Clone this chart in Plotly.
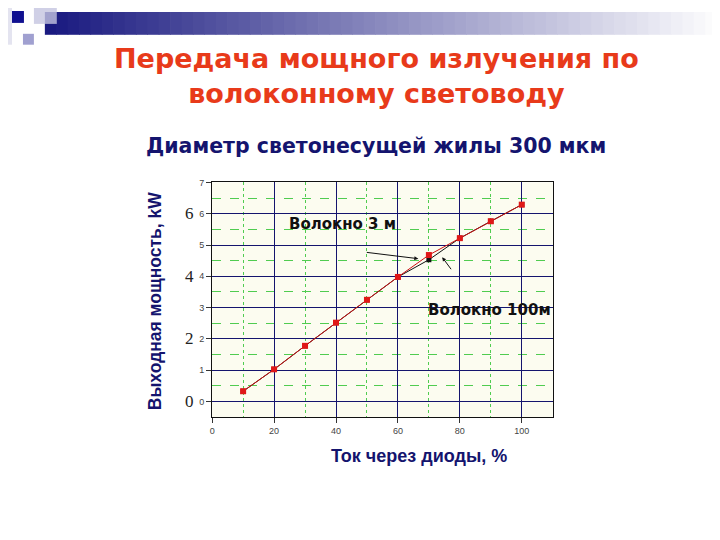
import plotly.graph_objects as go

current_pct = [10, 20, 30, 40, 50, 60, 70, 80, 90, 100]
power_3m = [0.33, 1.03, 1.78, 2.52, 3.25, 3.98, 4.68, 5.22, 5.76, 6.29]
power_100m = [0.33, 1.03, 1.78, 2.52, 3.25, 3.98, 4.53, 5.22, 5.76, 6.29]
big_ticks = [0, 2, 4, 6]

title_text = "Передача мощного излучения по<br>волоконному световоду"
subtitle_text = "Диаметр светонесущей жилы 300 мкм"
x_title = "Ток через диоды, %"
y_title = "Выходная мощность, kW"
label_3m = "Волокно 3 м"
label_100m = "Волокно 100м"

NAVY = "#14146e"
W, H = 720, 540
DX, DY = 9, 11  # page offset compensation


def px(x):
    return (x - DX) / W


def py(y):
    return 1 - (y - DY) / H


fig = go.Figure()
fig.add_trace(go.Scatter(x=current_pct, y=power_100m, mode="lines+markers",
                         line=dict(color="#111111", width=1),
                         marker=dict(symbol="square", size=5, color="#111111"),
                         showlegend=False, cliponaxis=False))
fig.add_trace(go.Scatter(x=current_pct, y=power_3m, mode="lines+markers",
                         line=dict(color="#cc1010", width=1),
                         marker=dict(symbol="square", size=6, color="#e01818"),
                         showlegend=False, cliponaxis=False))

shapes = []
n = 60
x0, x1 = 43, 729
for i in range(n):
    t = i / (n - 1)
    c0 = (26, 26, 128)
    c1 = (255, 255, 255)
    col = tuple(int(c0[k] + (c1[k] - c0[k]) * t) for k in range(3))
    xa = x0 + (x1 - x0) * i / n
    xb = x0 + (x1 - x0) * (i + 1) / n
    shapes.append(dict(type="rect", xref="paper", yref="paper",
                       x0=px(xa), x1=px(xb) + 0.001,
                       y0=py(33), y1=py(10),
                       fillcolor="rgb(%d,%d,%d)" % col, line=dict(width=0), layer="below"))
shapes.append(dict(type="rect", xref="paper", yref="paper", x0=px(0), x1=px(10),
                   y0=py(43), y1=py(0), fillcolor="#e4e4f0", line=dict(width=0), layer="below"))
shapes.append(dict(type="rect", xref="paper", yref="paper", x0=px(32), x1=px(55),
                   y0=py(22), y1=py(0), fillcolor="#c4c4e0", line=dict(width=0), opacity=0.8))
shapes.append(dict(type="rect", xref="paper", yref="paper", x0=px(10), x1=px(22),
                   y0=py(21), y1=py(9), fillcolor="#101090", line=dict(width=0)))
shapes.append(dict(type="rect", xref="paper", yref="paper", x0=px(21), x1=px(32),
                   y0=py(43), y1=py(32), fillcolor="#a0a0d0", line=dict(width=0)))

annotations = [
    dict(text=title_text, x=px(376), y=py(75), xref="paper", yref="paper",
         xanchor="center", yanchor="middle", showarrow=False,
         font=dict(family="DejaVu Sans", size=27, color="#e83a1a", weight="bold")),
    dict(text=subtitle_text, x=px(376), y=py(145), xref="paper", yref="paper",
         xanchor="center", yanchor="middle", showarrow=False,
         font=dict(family="DejaVu Sans", size=20.5, color=NAVY, weight="bold")),
    dict(text=label_3m, x=px(342), y=py(224), xref="paper", yref="paper",
         xanchor="center", yanchor="middle",
         showarrow=False, font=dict(family="DejaVu Sans", size=15, color="#111111", weight="bold")),
    dict(text=label_100m, x=px(490), y=py(311), xref="paper", yref="paper",
         xanchor="center", yanchor="middle",
         showarrow=False, font=dict(family="DejaVu Sans", size=15, color="#111111", weight="bold")),
    dict(x=px(418), y=py(259), ax=-53, ay=-6.5,
         xref="paper", yref="paper", axref="pixel", ayref="pixel",
         showarrow=True, arrowhead=2, arrowsize=0.8, arrowwidth=1, arrowcolor="#111111", text=""),
    dict(x=px(442), y=py(257.5), ax=10, ay=13.5,
         xref="paper", yref="paper", axref="pixel", ayref="pixel",
         showarrow=True, arrowhead=2, arrowsize=0.8, arrowwidth=1, arrowcolor="#111111", text=""),
    dict(text=y_title, x=px(153.5), y=py(301), xref="paper", yref="paper",
         textangle=-90, showarrow=False, xanchor="center", yanchor="middle",
         font=dict(family="Liberation Sans", size=17.5, color=NAVY, weight="bold")),
    dict(text=x_title, x=px(419), y=py(458), xref="paper", yref="paper",
         showarrow=False, xanchor="center", yanchor="middle",
         font=dict(family="Liberation Sans", size=18, color=NAVY, weight="bold")),
]
for v in big_ticks:
    annotations.append(dict(text=str(v), x=px(188), y=v, xref="paper", yref="y",
                            showarrow=False, xanchor="center", yanchor="middle",
                            font=dict(family="Liberation Serif", size=17, color="#222222")))

fig.update_layout(
    width=W, height=H, margin=dict(l=0, r=0, t=0, b=0),
    paper_bgcolor="white", plot_bgcolor="#fcfcf0",
    shapes=shapes, annotations=annotations, showlegend=False,
    xaxis=dict(domain=[px(211), px(553)], range=[0, 110], dtick=20, tick0=0,
               showgrid=True, gridcolor=NAVY, gridwidth=1,
               minor=dict(dtick=10, tick0=0, showgrid=True, gridcolor="#50cc50", griddash="dot", gridwidth=1),
               ticks="outside", ticklen=5, tickcolor="#333333",
               showline=True, linecolor="#111111", linewidth=1, mirror=True,
               zeroline=False, tickfont=dict(family="Liberation Sans", size=9, color="#444444")),
    yaxis=dict(domain=[py(419), py(182)], range=[-0.5, 7], dtick=1, tick0=0,
               showgrid=True, gridcolor=NAVY, gridwidth=1,
               minor=dict(dtick=0.5, tick0=0, showgrid=True, gridcolor="#50cc50", griddash="dash", gridwidth=1),
               ticks="outside", ticklen=5, tickcolor="#333333",
               showline=True, linecolor="#111111", linewidth=1, mirror=True,
               zeroline=False, tickfont=dict(family="Liberation Sans", size=9, color="#444444")),
)

fig.write_html("out.html")
